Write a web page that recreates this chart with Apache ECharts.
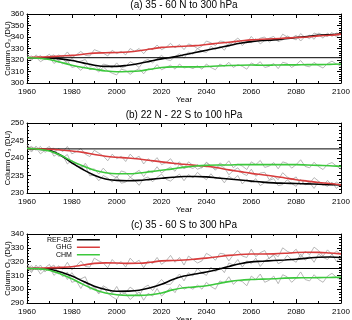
<!DOCTYPE html>
<html><head><meta charset="utf-8">
<script src="https://cdn.jsdelivr.net/npm/echarts/dist/echarts.min.js"></script>
<style>html,body{margin:0;padding:0;background:#fff}#c{width:352px;height:320px}</style>
</head><body><div id="c"></div>
<script>
// ---- data ----
const YEARS5 = [1960,1965,1970,1975,1980,1985,1990,1995,2000,2005,2010,2015,2020,2025,2030,2035,2040,2045,2050,2055,2060,2065,2070,2075,2080,2085,2090,2095,2100];
const YEARS2 = [1960,1962,1964,1966,1968,1970,1972,1974,1976,1978,1980,1982,1984,1986,1988,1990,1992,1994,1996,1998,2000,2002,2004,2006,2008,2010,2012,2014,2016,2018,2020,2022,2024,2026,2028,2030,2032,2034,2036,2038,2040,2042,2044,2046,2048,2050,2052,2054,2056,2058,2060,2062,2064,2066,2068,2070,2072,2074,2076,2078,2080,2082,2084,2086,2088,2090,2092,2094,2096,2098,2100];
const TITLES = ['(a) 35 - 60 N to 300 hPa','(b) 22 N - 22 S to 100 hPa','(c) 35 - 60 S to 300 hPa'];
const Y_MIN = [300,230,290];
const Y_MAX = [360,250,340];
const Y_STEP = [10,5,10];
const X_TICKS = {min:1960, max:2100, step:20};
const BASELINE = [322,242.6,315];
const LEGEND_NAMES = ['REF-B2','GHG','CHM'];

// panel (a)
const aRef = [322,322,321.8,321,319.5,317.5,315.5,314.5,314.5,315.5,317,319,321,322.5,324.5,326.5,328.5,330.5,332.5,334.5,336,337,337.5,338.5,339.5,340.5,341.5,342,342.5];
const aGhg = [322,322.5,322.8,323.5,324,325,326,326.3,326.5,327,328,329.5,331,331.5,332,332.5,333.5,334.5,335.5,336.5,337.5,338,338.5,339,339.5,340,341,341.5,342.5];
const aChm = [322,321.5,320.5,318,315.5,313.5,312,310.5,309.8,310,310.5,312,313.5,314,314,314,314.3,314.8,315.2,315.5,315.6,315.5,315.6,315.8,315.8,316,316,316.2,316.5];
const aRefRaw = [322,323.5,321,324,320,323,324.5,319.5,321,317,321.5,318,319,320.5,314.5,315.5,312,316.5,315.5,313,317.5,313,314.5,318.5,316.5,313.5,319,320.5,317.5,321,324,320.5,319.5,323,325.5,321.5,327,325,330,327.5,326.5,332,329,332,328.5,334.5,333.5,337,332.5,336.5,335,338.5,334,337,339,340.5,336,337.5,341,339,337.5,343,339.5,341.5,338,343.5,341.5,340.5,344,340,343.5];
const aGhgRaw = [323,319.5,324.5,321,322.5,325,320,324.5,322.5,327,322,324.5,327.5,324,323.5,329,327.5,326,323.5,328.5,325.5,327.5,324.5,330,327.5,330,325.5,330,329,333,329,331,334.5,330.5,333.5,329,334,332.5,330,332,336.5,335,332.5,336.5,336,332,336,339,335.5,335,340.5,336,339,340,335.5,338.5,336.5,342.5,340,339,341.5,336.5,340.5,338.5,343.5,342,339,343.5,340.5,343.5,342.5];
const aChmRaw = [325,320.5,322.5,318.5,321,322.5,317,319.5,316.5,319.5,313.5,314.5,311,315.5,311.5,313,309.5,314,310.5,308.5,307,312,311,307.5,310.5,312.5,308,312.5,311.5,316,311.5,313.5,315.5,312,316.5,313,314,312.5,315,312,316.5,313.5,311.5,316.5,314.5,318,313.5,316,314.5,312,317.5,315.5,318.5,313.5,314.5,317,312.5,318,317,313.5,316,319.5,315,314,318,315,313,317,319,316.5,314.5];

// panel (b)
const bRef = [242.7,242.6,242.2,240.8,238.6,236.7,235.1,234,233.6,233.5,233.6,233.9,234.2,234.5,234.7,234.7,234.6,234.3,234,233.7,233.4,233.1,232.9,232.8,232.7,232.6,232.5,232.4,232.3];
const bGhg = [242.7,242.6,242.5,242.3,242,241.6,241,240.5,240.2,240,239.7,239.3,238.9,238.5,238.2,237.9,237.6,237.2,236.6,236.1,235.6,235.2,234.8,234.3,233.8,233.4,233,232.7,232.3];
const bChm = [242.7,242.5,242,240.8,239.1,237.7,236.5,235.8,235.5,235.5,235.7,236.1,236.5,236.9,237.4,237.7,237.9,238,238,238.1,238.1,238.1,238.1,238.1,238.1,238,237.9,237.8,237.6];
const bRefRaw = [242.7,243.3,242.2,243.3,241.6,242.6,242.8,240.5,240.6,238.3,239.4,237.6,237.5,237.8,234.9,235.1,233.5,235.0,234.3,233.1,234.8,232.8,233.1,234.5,233.6,232.2,234.1,234.6,233.2,234.5,235.4,233.9,233.4,234.5,235.4,233.5,235.3,234.3,235.9,234.7,233.8,235.5,234.0,234.6,232.9,234.8,233.9,235.0,232.6,233.9,233.0,234.1,232.1,233.0,233.6,234.1,232.1,232.4,233.8,232.7,231.9,233.9,232.3,233.0,231.3,233.3,232.5,231.9,233.1,231.3,232.7];
const bGhgRaw = [243.1,241.7,243.4,242.0,242.5,243.3,241.2,242.7,241.8,243.3,241.2,241.8,242.7,241.1,240.4,242.2,241.4,240.6,239.2,241.1,239.8,240.5,239.0,241.1,239.8,240.5,238.3,239.8,238.8,240.1,238.1,238.7,239.8,238.0,238.9,237.0,238.9,237.9,236.8,237.3,238.8,237.8,236.5,237.9,237.2,235.2,236.4,237.2,235.6,235.0,236.8,234.8,235.7,235.9,233.8,234.8,233.8,235.8,234.6,233.8,234.6,232.4,233.7,232.7,234.4,233.4,232.1,233.6,232.2,233.1,232.3];
const bChmRaw = [243.9,242.0,242.9,241.2,242.2,242.8,240.5,241.4,240.1,241.0,238.3,238.5,236.8,238.5,236.6,236.9,235.4,237.1,235.7,235.0,234.3,236.3,235.9,234.5,235.6,236.5,234.7,236.4,235.8,237.5,235.7,236.7,237.4,236.2,238.2,237.0,237.5,237.0,238.1,237.1,238.7,237.5,236.8,238.6,237.8,239.2,237.2,238.3,237.7,236.7,238.9,238.1,239.3,237.3,237.7,238.7,236.9,238.9,238.5,237.1,238.1,239.5,237.6,237.2,238.8,237.5,236.7,238.2,238.7,237.7,236.8];

// panel (c)
const cRef = [315,315,314.5,312.5,309.5,305.8,302.2,299.8,298.5,298.6,299.2,301,303.5,307,309.5,311,312.5,314.3,316.5,318.5,319.8,320.3,320.8,321.2,321.7,322.5,323.2,323.3,323];
const cGhg = [315,315.2,315.5,315.8,316.3,317.5,318.7,319.1,319,318.7,318.8,319.5,320.5,320.8,321.2,321.8,322.5,323.5,324.5,325.2,325.5,325.5,325.6,326,326.6,326.8,326.7,326.2,325.6];
const cChm = [315,314.8,313.8,311,307.5,303.5,299.8,297.2,296,295.5,295.5,296,297.3,299.5,301,301.7,302.5,304,305.5,306.5,307,307.3,307.6,308,308.2,308.3,308.4,308.5,308.7];
const cRefRaw = [315,317,314,317.5,312.5,315.5,317.5,311,312.5,307,312,307.5,307.5,309,301,302,297.5,302.5,300.5,297,302,296,297.5,301.5,299,295,301,303,299,303.5,307,303.5,303.5,307.5,311,306,312,309.5,315,312,310,316,312.5,316,312,319,317.5,321.5,316,320.5,318.5,322.5,316.5,320.5,322.5,324.5,318.5,320,324.5,321.5,319.5,325.5,321,324,319.5,325.5,323,321.5,325.5,320,324];
const cGhgRaw = [316,312,317.5,313.5,315.5,318,312,317,314.5,319.5,314,317,320.5,316.5,316,322.5,320.5,319,315.5,321.5,318,320,316,322.5,319,321,315.5,320.5,318.5,323,318,320.5,324.5,319.5,323,317.5,324,321.5,319,320.5,326,324,321,326,325.5,320.5,325,328,324,323,329,323.5,326.5,328,322,325.5,323.5,330,327.5,326,329,323,327.5,325,330.5,328,324,328.5,325,327.5,325.5];
const cChmRaw = [318.5,313,316,311,314,316,310,313,309,312.5,305,306,300.5,306,300,301,296.5,301.5,297,294.5,292.5,298,297,292.5,295.5,298,292,297,295,300.5,295,298,301,297.5,303.5,300,301.5,300,303,300,305,302,300,306,304.5,309,303.5,306.5,305.5,302.5,309.5,307,311,305,306.5,309.5,304,310.5,309,305,308,312.5,307,306,310.5,307,305,309.5,311.5,308.5,306.5];

const SMOOTH = [[aRef,aGhg,aChm],[bRef,bGhg,bChm],[cRef,cGhg,cChm]];
const RAW = [[aRefRaw,aGhgRaw,aChmRaw],[bRefRaw,bGhgRaw,bChmRaw],[cRefRaw,cGhgRaw,cChmRaw]];

// ---- styles / layout ----
const FONT = 'Liberation Sans, Arial, sans-serif';
const COLORS = ['#000000','#d83c3c','#3cc83c'];
const GRAY = '#a6a6a6';
const GRID_TOP = [14,123,234];
const GRID_H = [69,70,69];
const TITLE_Y = [5,115,225];

function pairs(xs, ys){ return xs.map((x,i)=>[x, ys[i]]); }

const grids=[], xAxes=[], yAxes=[], series=[], graphics=[];
for (let p=0;p<3;p++){
  grids.push({left:27, right:11, top:GRID_TOP[p], height:GRID_H[p], containLabel:false, outerBoundsMode:'none'});
  const xBase = {type:'value', gridIndex:p, min:X_TICKS.min, max:X_TICKS.max, interval:X_TICKS.step,
    axisLine:{show:true, onZero:false, lineStyle:{color:'#000', width:1}},
    axisTick:{show:true, inside:true, length:4, lineStyle:{color:'#000', width:1}},
    minorTick:{show:true, splitNumber:2, length:2, lineStyle:{color:'#000', width:1}},
    splitLine:{show:false}, minorSplitLine:{show:false}};
  xAxes.push(Object.assign({}, xBase, {position:'bottom',
    axisLabel:{show:true, fontSize:8, color:'#000', margin:5, fontFamily:FONT, formatter:(v)=>String(v)},
    name:'Year', nameLocation:'middle', nameGap:13, nameMoveOverlap:false,
    nameTextStyle:{fontSize:8, color:'#000', fontFamily:FONT}}));
  xAxes.push(Object.assign({}, xBase, {position:'top', axisLabel:{show:false}}));
  const yBase = {type:'value', gridIndex:p, min:Y_MIN[p], max:Y_MAX[p], interval:Y_STEP[p],
    axisLine:{show:true, onZero:false, lineStyle:{color:'#000', width:1}},
    axisTick:{show:true, inside:true, length:4, lineStyle:{color:'#000', width:1}},
    minorTick:{show:true, splitNumber:5, length:2, lineStyle:{color:'#000', width:1}},
    splitLine:{show:false}, minorSplitLine:{show:false}};
  yAxes.push(Object.assign({}, yBase, {position:'left',
    axisLabel:{show:true, fontSize:8, color:'#000', margin:3, fontFamily:FONT},
    name:'Column O\u2083 (DU)', nameLocation:'middle', nameGap:15, nameRotate:90, nameMoveOverlap:false,
    nameTextStyle:{fontSize:7.5, color:'#000', fontFamily:FONT}}));
  yAxes.push(Object.assign({}, yBase, {position:'right', axisLabel:{show:false}}));

  for (let s=0;s<3;s++){
    series.push({type:'line', name:'raw'+p+s, xAxisIndex:2*p, yAxisIndex:2*p, data:pairs(YEARS2, RAW[p][s]),
      symbol:'none', silent:true, z:1, lineStyle:{color:GRAY, width:0.8}, itemStyle:{color:GRAY}});
  }
  series.push({type:'line', name:'base'+p, xAxisIndex:2*p, yAxisIndex:2*p,
    data:[[X_TICKS.min, BASELINE[p]],[X_TICKS.max, BASELINE[p]]],
    symbol:'none', silent:true, z:2, lineStyle:{color:'#000', width:1}, itemStyle:{color:'#000'}});
  for (let s=0;s<3;s++){
    series.push({type:'line', name:LEGEND_NAMES[s], xAxisIndex:2*p, yAxisIndex:2*p, data:pairs(YEARS5, SMOOTH[p][s]),
      symbol:'none', smooth:0.4, silent:true, z:3, lineStyle:{color:COLORS[s], width:1.6}, itemStyle:{color:COLORS[s]}});
  }
  graphics.push({type:'text', x:184, y:TITLE_Y[p], style:{text:TITLES[p], fontSize:10, fontFamily:FONT, fill:'#000',
    textAlign:'center', textVerticalAlign:'middle'}});
}

const chart = echarts.init(document.getElementById('c'), null, {renderer:'canvas'});
chart.setOption({
  animation:false,
  backgroundColor:'#fff',
  grid:grids, xAxis:xAxes, yAxis:yAxes, series:series, graphic:graphics,
  legend:{data:LEGEND_NAMES, orient:'vertical', align:'right', left:47, top:236, padding:0, itemGap:0,
    icon:'rect', itemWidth:23, itemHeight:1.5, selectedMode:false,
    textStyle:{fontSize:7, color:'#000', fontFamily:FONT, lineHeight:7.5}}
});
</script></body></html>
